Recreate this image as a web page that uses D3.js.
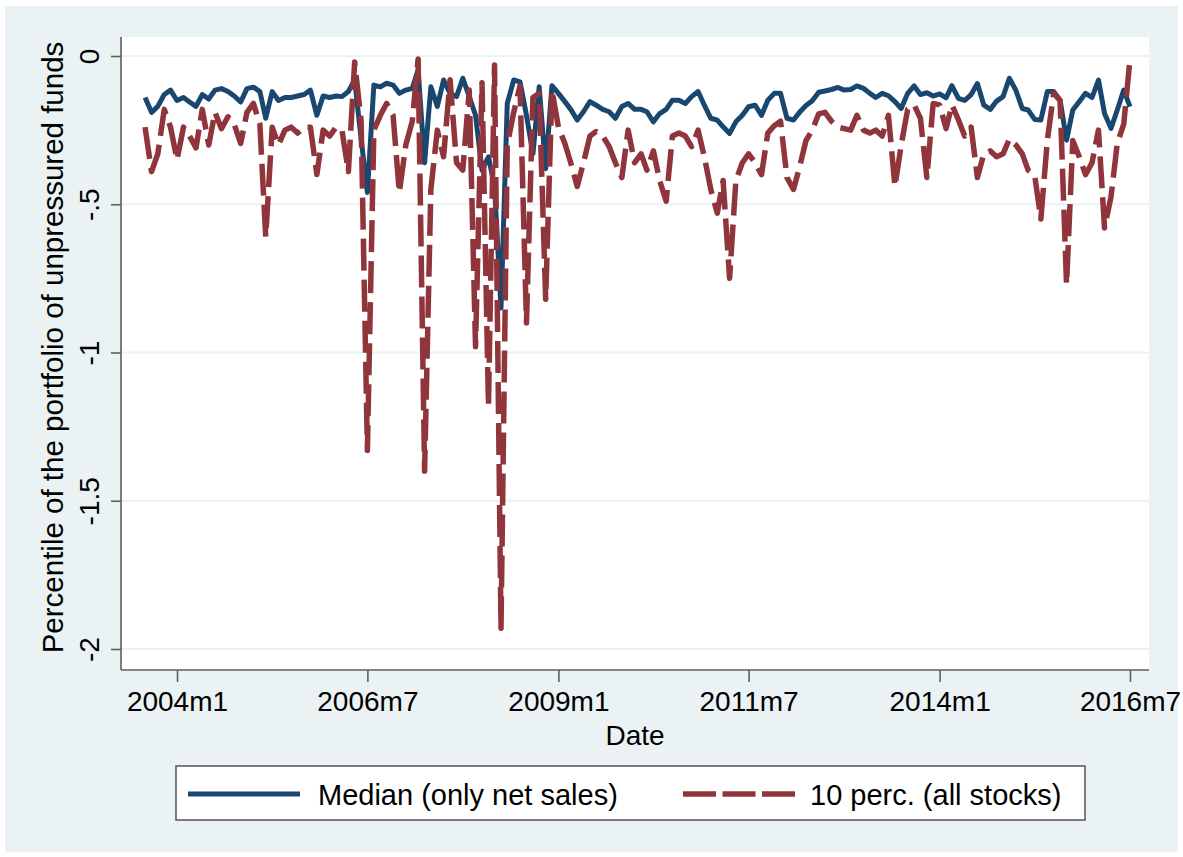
<!DOCTYPE html>
<html lang="en">
<head>
    <meta charset="UTF-8">
    <title>Percentile of the portfolio of unpressured funds</title>
    <script src="https://cdnjs.cloudflare.com/ajax/libs/d3/7.8.5/d3.min.js"></script>
    <style>
        body { margin: 0; background: #fff; }
        svg { display: block; font-family: "Liberation Sans", Arial, sans-serif; }
        .grid line { stroke: #eaf2f3; stroke-width: 2px; }
        .tick-label { font-size: 28px; fill: #000; }
    </style>
</head>
<body>
<svg width="1183" height="857"></svg>
<script>
    // monthly observations, first one is 2003m8
    const startMonth = new Date(2003, 7, 1);

    const median = [
        -0.14, -0.19, -0.17, -0.13, -0.115, -0.15, -0.14, -0.155, -0.17, -0.13,
        -0.145, -0.115, -0.11, -0.12, -0.135, -0.155, -0.11, -0.105, -0.12, -0.21,
        -0.12, -0.15, -0.14, -0.14, -0.135, -0.13, -0.115, -0.2, -0.135, -0.14,
        -0.135, -0.137, -0.12, -0.08, -0.28, -0.46, -0.098, -0.104, -0.092, -0.098,
        -0.126, -0.115, -0.109, -0.047, -0.36, -0.104, -0.17, -0.081, -0.126, -0.137,
        -0.075, -0.137, -0.2, -0.385, -0.34, -0.44, -0.85, -0.16, -0.081, -0.087,
        -0.2, -0.33, -0.104, -0.38, -0.1, -0.126, -0.154, -0.18, -0.216, -0.188,
        -0.154, -0.166, -0.18, -0.188, -0.21, -0.17, -0.16, -0.18, -0.18, -0.188,
        -0.222, -0.194, -0.18, -0.149, -0.149, -0.16, -0.137, -0.12, -0.166, -0.21,
        -0.216, -0.239, -0.261, -0.222, -0.2, -0.171, -0.166, -0.2, -0.149, -0.126,
        -0.126, -0.21, -0.216, -0.19, -0.167, -0.151, -0.122, -0.118, -0.113, -0.106,
        -0.115, -0.113, -0.101, -0.109, -0.126, -0.14, -0.126, -0.134, -0.154, -0.177,
        -0.126, -0.101, -0.13, -0.124, -0.135, -0.128, -0.141, -0.1, -0.143, -0.15,
        -0.13, -0.093, -0.166, -0.18, -0.152, -0.137, -0.075, -0.115, -0.177, -0.182,
        -0.214, -0.216, -0.12, -0.12, -0.149, -0.284, -0.182, -0.154, -0.126, -0.14,
        -0.081, -0.194, -0.244, -0.182, -0.115, -0.171
    ];

    const perc10 = [
        -0.24, -0.39, -0.33, -0.18, -0.24, -0.35, -0.24, -0.27, -0.31, -0.18,
        -0.3, -0.19, -0.245, -0.205, -0.23, -0.295, -0.19, -0.16, -0.23, -0.61,
        -0.24, -0.3, -0.25, -0.24, -0.26, -0.24, -0.24, -0.4, -0.25, -0.27,
        -0.24, -0.25, -0.39, -0.02, -0.22, -1.33, -0.25, -0.2, -0.16, -0.2,
        -0.46, -0.3, -0.22, -0.01, -1.40, -0.45, -0.25, -0.34, -0.08, -0.36,
        -0.385, -0.115, -0.98, -0.09, -1.18, -0.03, -1.93, -0.3, -0.19, -0.1,
        -0.9, -0.14, -0.126, -0.82, -0.115, -0.24, -0.295, -0.36, -0.44, -0.36,
        -0.27, -0.255, -0.27, -0.305, -0.36, -0.41, -0.25, -0.36, -0.33, -0.385,
        -0.32, -0.42, -0.49, -0.27, -0.26, -0.27, -0.306, -0.25, -0.34, -0.45,
        -0.53, -0.42, -0.75, -0.42, -0.36, -0.33, -0.36, -0.4, -0.26, -0.235,
        -0.22, -0.41, -0.45, -0.375, -0.285, -0.25, -0.195, -0.19, -0.22, -0.24,
        -0.245, -0.25, -0.2, -0.25, -0.26, -0.25, -0.27, -0.2, -0.44, -0.3,
        -0.18, -0.165, -0.21, -0.41, -0.16, -0.165, -0.245, -0.165, -0.215, -0.27,
        -0.24, -0.41, -0.33, -0.32, -0.34, -0.33, -0.28, -0.3, -0.33, -0.385,
        -0.4, -0.55, -0.285, -0.126, -0.15, -0.77, -0.285, -0.34, -0.4, -0.36,
        -0.25, -0.58, -0.475, -0.295, -0.23, -0.01
    ];

    const xTickLabels = ["2004m1", "2006m7", "2009m1", "2011m7", "2014m1", "2016m7"];
    const yTicks = [0, -0.5, -1, -1.5, -2];
    const yTickLabels = ["0", "-.5", "-1", "-1.5", "-2"];
    const seriesNames = ["Median (only net sales)", "10 perc. (all stocks)"];

    const blue = "#1a476f", red = "#90353b", axisCol = "#5e5e5e";

    const parseStata = s => { const [y, m] = s.split("m"); return new Date(+y, +m - 1, 1); };
    const dates = median.map((_, i) => d3.timeMonth.offset(startMonth, i));

    const svg = d3.select("svg");
    const plot = { left: 121, right: 1149, top: 37, bottom: 670 };

    // outer graph region and plot region
    svg.append("rect").attr("x", 5).attr("y", 6).attr("width", 1173).attr("height", 846).attr("fill", "#eaf2f3");
    svg.append("rect").attr("x", plot.left).attr("y", plot.top)
        .attr("width", plot.right - plot.left).attr("height", plot.bottom - plot.top).attr("fill", "#fff");

    const x = d3.scaleTime().domain([parseStata("2004m1"), parseStata("2016m7")]).range([177, 1130]);
    const y = d3.scaleLinear().domain([-2, 0]).range([649, 56]);

    svg.append("g").attr("class", "grid").selectAll("line")
        .data(yTicks).enter().append("line")
        .attr("x1", plot.left).attr("x2", plot.right)
        .attr("y1", d => y(d)).attr("y2", d => y(d));

    // y axis
    const yAxis = svg.append("g").attr("transform", `translate(${plot.left},0)`)
        .call(d3.axisLeft(y).tickValues(yTicks).tickSize(10).tickPadding(0).tickFormat((d, i) => yTickLabels[i]));
    yAxis.select(".domain").attr("d", `M0,${plot.top}V${plot.bottom}`).attr("stroke", axisCol).attr("stroke-width", 1.6);
    yAxis.selectAll(".tick line").attr("stroke", axisCol).attr("stroke-width", 1.6);
    yAxis.selectAll(".tick text")
        .attr("class", "tick-label")
        .attr("x", null).attr("dy", null)
        .attr("text-anchor", "middle")
        .attr("transform", "translate(-22,0) rotate(-90)");

    // x axis
    const xAxis = svg.append("g").attr("transform", `translate(0,${plot.bottom})`)
        .call(d3.axisBottom(x).tickValues(xTickLabels.map(parseStata)).tickSize(12).tickPadding(9)
            .tickFormat((d, i) => xTickLabels[i]));
    xAxis.select(".domain").attr("d", `M${plot.left},0H${plot.right}`).attr("stroke", axisCol).attr("stroke-width", 1.6);
    xAxis.selectAll(".tick line").attr("stroke", axisCol).attr("stroke-width", 1.6);
    xAxis.selectAll(".tick text").attr("class", "tick-label");

    svg.append("text").attr("x", (plot.left + plot.right) / 2).attr("y", 745)
        .attr("text-anchor", "middle").attr("font-size", 28).text("Date");
    svg.append("text").attr("transform", `translate(63,${(plot.top + plot.bottom) / 2 - 6}) rotate(-90)`)
        .attr("text-anchor", "middle").attr("font-size", 29.5)
        .text("Percentile of the portfolio of unpressured funds");

    const line = d3.line().x((d, i) => x(dates[i])).y(d => y(d)).curve(d3.curveLinear);

    svg.append("path").datum(median).attr("d", line)
        .attr("fill", "none").attr("stroke", blue).attr("stroke-width", 5)
        .attr("stroke-linejoin", "round");
    svg.append("path").datum(perc10).attr("d", line)
        .attr("fill", "none").attr("stroke", red).attr("stroke-width", 5.5)
        .attr("stroke-linejoin", "round").attr("stroke-dasharray", "32,9");

    // legend
    const lg = svg.append("g");
    lg.append("rect").attr("x", 176).attr("y", 766).attr("width", 909).attr("height", 54)
        .attr("fill", "#fff").attr("stroke", axisCol).attr("stroke-width", 1.6);
    lg.append("line").attr("x1", 188).attr("x2", 300).attr("y1", 794).attr("y2", 794)
        .attr("stroke", blue).attr("stroke-width", 5);
    lg.append("text").attr("x", 318).attr("y", 805).attr("font-size", 29).text(seriesNames[0]);
    lg.append("line").attr("x1", 683).attr("x2", 795).attr("y1", 794).attr("y2", 794)
        .attr("stroke", red).attr("stroke-width", 5.5).attr("stroke-dasharray", "33,6.5");
    lg.append("text").attr("x", 810).attr("y", 805).attr("font-size", 29).text(seriesNames[1]);
</script>
</body>
</html>
